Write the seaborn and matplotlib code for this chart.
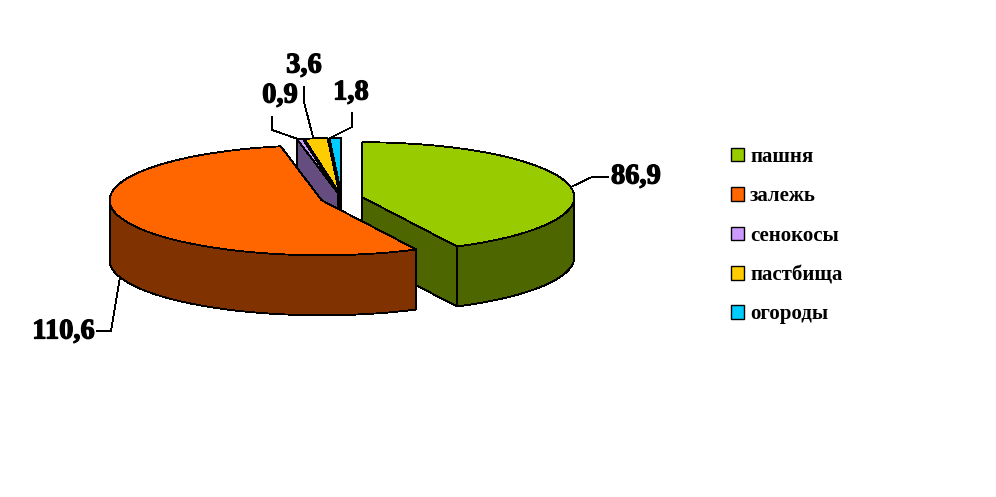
import matplotlib.patheffects as pe
import matplotlib.pyplot as plt
import numpy as np
import seaborn as sns
from matplotlib.patches import Patch

categories = ["пашня", "залежь", "сенокосы", "пастбища", "огороды"]
values = [86.9, 110.6, 0.9, 3.6, 1.8]
top_colors = ["#99CC00", "#FF6600", "#CC99FF", "#FFCC00", "#00CCFF"]
side_colors = ["#4D6600", "#803300", "#664D80", "#806600", "#006680"]

# pie geometry in image pixels
CX, CY = 341.7, 198.5
RX, RY = 212, 55
DEPTH = 60
EXPLODE = 0.1

# where the value labels sit, and the bends of their leader lines
label_pos = [(636, 177), (63.5, 332), (280, 96), (304, 66), (351, 93)]
leaders = [
    [(573, 186), (592, 177), (608, 177)],
    [(120, 277), (111, 331), (97, 331)],
    [(298, 139), (272, 130), (272, 117)],
    [(313, 137), (304, 102), (304, 87)],
    [(330, 138), (352, 127), (352, 113)],
]

sns.set_theme(style="white")
plt.rcParams["font.family"] = ["Liberation Serif", "DejaVu Serif"]


def rim(apex, a0, a1):
    t = np.radians(np.linspace(a0, a1, max(int(abs(a1 - a0)), 2) + 1))
    return np.column_stack([apex[0] + RX * np.sin(t), apex[1] - RY * np.cos(t)])


def poly(ax, pts, color, z):
    ax.fill(pts[:, 0], pts[:, 1], facecolor=color, edgecolor="black",
            linewidth=0.6, antialiased=False, zorder=z)


fig, ax = plt.subplots(figsize=(9.96, 4.97), dpi=100)
fig.subplots_adjust(0, 0, 1, 1)
ax.set_xlim(0, 996)
ax.set_ylim(497, 0)
ax.axis("off")

sweep = np.cumsum([0] + values) / sum(values) * 360
# small slices go behind the two big ones
z_side = {0: 3, 1: 5, 2: 1.4, 3: 1.2, 4: 1.0}
z_top = {0: 4, 1: 6, 2: 2, 3: 2, 4: 2}

for i in range(len(values)):
    a0, a1 = sweep[i], sweep[i + 1]
    mid = np.radians((a0 + a1) / 2)
    apex = np.array([CX + EXPLODE * RX * np.sin(mid), CY - EXPLODE * RY * np.cos(mid)])
    drop = np.array([0, DEPTH])

    # cut face that looks towards the viewer: end edge on the right, start edge on the left
    if i != 1:
        cut = a1 if a1 < 180 else a0
        edge = rim(apex, cut, cut)[:1]
        face = np.vstack([apex, edge, edge + drop, apex + drop])
        poly(ax, face, side_colors[i], z_side[i])

    # outer wall for the part of the rim that faces the viewer
    lo, hi = max(a0, 90), min(a1, 270)
    if hi > lo:
        arc = rim(apex, lo, hi)
        poly(ax, np.vstack([arc, (arc + drop)[::-1]]), side_colors[i], z_side[i])

    poly(ax, np.vstack([apex, rim(apex, a0, a1)]), top_colors[i], z_top[i])

heavy = [pe.withStroke(linewidth=0.9, foreground="black")]
for v, pos, line in zip(values, label_pos, leaders):
    xs, ys = zip(*line)
    ax.plot(xs, ys, color="black", lw=0.6, antialiased=False, zorder=7)
    ax.text(pos[0], pos[1], f"{v:.1f}".replace(".", ","), ha="center", va="center",
            fontsize=20.5, fontweight="bold", color="black", zorder=8, path_effects=heavy)

handles = [Patch(facecolor=c, edgecolor="black", linewidth=1) for c in top_colors]
leg = ax.legend(handles, categories, loc="upper left", bbox_to_anchor=(731, 147),
                bbox_transform=ax.transData, frameon=False, borderpad=0, borderaxespad=0,
                prop={"size": 15, "weight": "bold"}, labelcolor="black",
                handlelength=0.625, handleheight=0.625, handletextpad=0.29, labelspacing=0.93)

fig.savefig("out.png", dpi=100, facecolor="white")
